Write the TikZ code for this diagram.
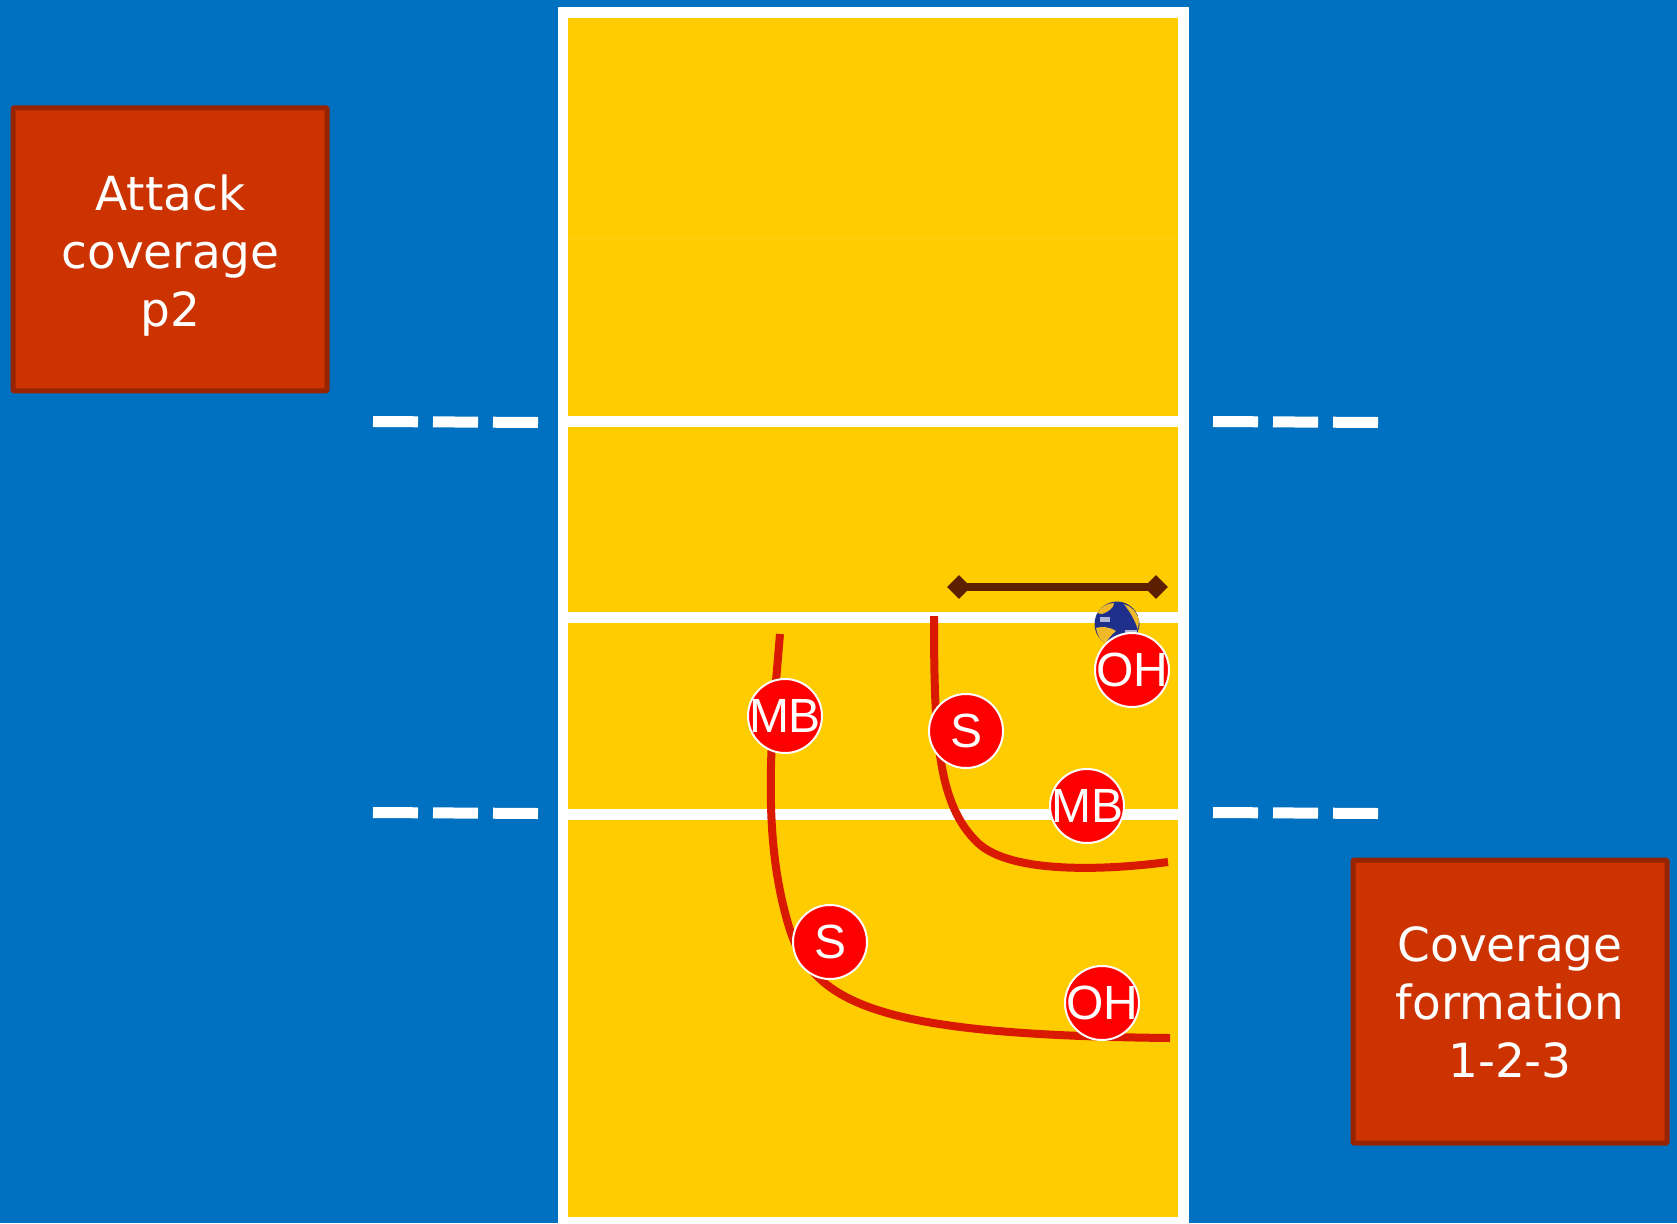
\documentclass[tikz,border=0pt]{standalone}
\usepackage{fontspec}
\setmainfont{DejaVu Sans}
\newfontfamily\playerfont{Liberation Sans}
\definecolor{bluebg}{HTML}{0070C0}
\definecolor{court}{HTML}{FFCC00}
\definecolor{boxfill}{HTML}{CC3300}
\definecolor{boxedge}{HTML}{962400}
\definecolor{route}{HTML}{D91A00}
\definecolor{block}{HTML}{5C1F00}
\definecolor{ballblue}{HTML}{1E2F8C}
\definecolor{ballyellow}{HTML}{EFB92A}
\usetikzlibrary{shapes.geometric}
\newcommand{\plabel}[1]{\makebox[0pt]{#1}}
\tikzset{
 x=1pt,y=-1pt,
 courtline/.style={draw=white,line width=11pt},
 sideline/.style={draw=white,line width=11pt,dash pattern=on 45pt off 15pt},
 titlebox/.style={draw=boxedge,fill=boxfill,line width=5pt,rounded corners=1pt,
   minimum width=314pt,minimum height=283pt,inner sep=0pt},
 titletext/.style={text=white,align=center,inner sep=0pt,font=\fontsize{47}{58}\selectfont},
 player/.style={circle,draw=white,fill=red,line width=2pt,minimum size=74pt,inner sep=0pt,text=white,
   font=\playerfont\fontsize{48}{48}\selectfont},
 routeline/.style={draw=route,line width=8pt},
 blockline/.style={draw=block,line width=8pt},
 blockend/.style={diamond,fill=block,minimum size=24pt,inner sep=0pt},
}
\begin{document}
\begin{tikzpicture}
\useasboundingbox (0,0) rectangle (1677,1223);
\fill[bluebg] (0,0) rectangle (1677,1223);
% court
\fill[white] (558,7) rectangle (1189,1223);
\fill[court] (568,18) rectangle (1178,1217);
\draw[court!90!white,line width=0.6pt] (568,238.5) -- (1178,238.5);
\coordinate (a1) at (568,421); \coordinate (a2) at (1178,421);
\coordinate (n1) at (558,617.5); \coordinate (n2) at (1189,617.5);
\coordinate (b1) at (568,814.5); \coordinate (b2) at (1178,814.5);
\draw[courtline] (a1) -- (a2);
\draw[courtline] (n1) -- (n2);
\draw[courtline] (b1) -- (b2);
% side dashes
\coordinate (la1) at (373,421.5); \coordinate (la2) at (538,422.5);
\coordinate (ra1) at (1213,421.5); \coordinate (ra2) at (1378,422.5);
\coordinate (lb1) at (373,812.5); \coordinate (lb2) at (538,813.5);
\coordinate (rb1) at (1213,812.5); \coordinate (rb2) at (1378,813.5);
\draw[sideline] (la1) -- (la2);
\draw[sideline] (ra1) -- (ra2);
\draw[sideline] (lb1) -- (lb2);
\draw[sideline] (rb1) -- (rb2);
% boxes
\node[titlebox] (attack) at (170,249.3) {};
\node[titletext] (attacktext) at (170.5,256) {Attack\\coverage\\p2};
\node[titlebox] (formation) at (1510,1001.6) {};
\node[titletext] (formationtext) at (1510,1002) {Coverage\\formation\\1-2-3};
% routes
\coordinate (r1s) at (780,634);
\coordinate (r1e) at (1170,1038);
\coordinate (r2s) at (934,616);
\coordinate (r2e) at (1168,862);
\draw[routeline] (r1s) .. controls (772,730) and (760,835) .. (790,930)
   .. controls (815,1005) and (880,1035) .. (r1e);
\draw[routeline] (r2s) .. controls (934,740) and (938,805) .. (978,843)
   .. controls (1010,873) and (1100,871) .. (r2e);
% block
\coordinate (b3) at (959,587); \coordinate (b4) at (1156,587);
\draw[blockline] (b3) -- (b4);
\node[blockend] (bl) at (b3) {};
\node[blockend] (br) at (b4) {};
% ball
\begin{scope}
\clip (1117,624) circle (22.5);
\fill[ballblue] (1117,624) circle (22.5);
\fill[ballyellow] (1097,613) .. controls (1101,607) and (1107,603) .. (1114,603) .. controls (1114,608) and (1108,612) .. (1102,614) -- cycle;
\fill[ballyellow] (1124,604) .. controls (1131,606) and (1137,612) .. (1139,620) -- (1138,630) .. controls (1135,620) and (1130,612) .. (1124,604) -- cycle;
\fill[ballyellow] (1096,628) .. controls (1102,626) and (1110,627) .. (1116,631) .. controls (1111,635) and (1107,640) .. (1105,645) .. controls (1100,640) and (1097,634) .. (1096,628) -- cycle;
\fill[white!65!ballblue] (1100,617) rectangle (1110,622);
\fill[white!65!ballblue] (1125,630) rectangle (1137,633);
\end{scope}
% players
\node[player] (oh1) at (1132,670) {\plabel{OH}};
\node[player] (s1) at (966,731) {\plabel{S}};
\node[player] (mb1) at (785,716) {\plabel{MB}};
\node[player] (mb2) at (1087,806) {\plabel{MB}};
\node[player] (s2) at (830,942) {\plabel{S}};
\node[player] (oh2) at (1102,1003) {\plabel{OH}};
\end{tikzpicture}
\end{document}
